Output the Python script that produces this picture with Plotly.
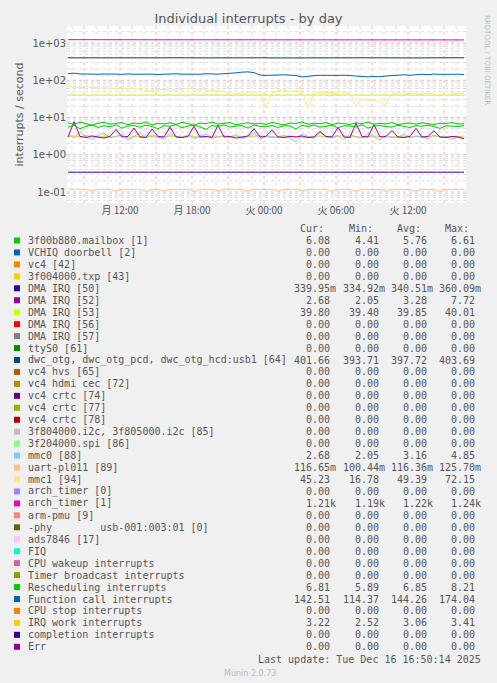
import plotly.graph_objects as go
import pandas as pd
import numpy as np

W, H = 497, 683
PX0, PX1, PY0, PY1 = 67, 466, 26, 203  # plot area pixels

times = pd.date_range("2025-12-15 07:40", periods=67, freq="30min")
x_start = pd.Timestamp("2025-12-15 07:35")
x_end = pd.Timestamp("2025-12-16 16:50")

arch_timer1 = [1230,1225,1228,1222,1226,1224,1220,1223,1225,1221,1224,1226,1222,1220,1223,1225,1221,1219,1222,1224,1220,1218,1221,1223,1219,1217,1220,1222,1218,1216,1219,1221,1217,1215,1218,1220,1216,1214,1217,1219,1215,1213,1216,1218,1214,1212,1215,1217,1213,1211,1214,1216,1212,1210,1213,1215,1211,1209,1212,1214,1210,1208,1211,1213,1209,1207,1210]
dwc_otg = [400,399,401,398,400,402,399,398,400,401,399,397,400,401,398,399,400,402,398,397,400,401,399,398,400,403,399,397,400,401,398,399,400,401,397,396,399,400,398,399,401,400,398,397,400,402,399,398,400,401,399,397,400,401,398,399,400,402,398,397,400,401,399,398,400,401,402]
func_call = [150,155,148,146,150,145,147,149,146,144,148,145,147,150,146,143,147,145,149,146,144,148,145,150,147,146,150,152,158,165,168,160,138,135,138,136,140,137,134,122,130,133,136,134,138,135,137,132,128,125,123,127,124,130,134,137,140,136,142,145,141,147,144,146,143,145,143]
mmc1 = [68,65,63,66,64,62,63,61,60,62,59,60,58,52,55,57,56,58,55,57,60,58,56,55,54,52,50,40,45,42,48,50,45,18,45,52,55,50,52,53,18,45,48,47,46,45,44,45,20,32,28,30,26,22,44,46,45,44,45,43,44,42,41,38,44,45,45]
dma53 = [39.8,39.9,39.8,39.7,39.9,39.8,39.8,39.9,39.7,39.8,39.9,39.8,39.8,39.9,39.8,39.7,39.8,39.9,39.8,39.8,39.9,39.8,39.7,39.8,39.9,39.8,39.8,39.9,39.8,39.7,39.8,39.9,39.8,39.8,39.9,39.8,39.7,39.8,39.9,39.8,39.8,39.9,39.8,39.7,39.8,39.9,39.8,39.8,39.9,39.8,39.7,39.8,39.9,39.8,39.8,39.9,39.8,39.7,39.8,39.9,39.8,39.8,39.9,39.8,39.7,39.8,39.8]
resched = [7.2,6.5,7.5,6.8,6.2,7.0,7.4,6.6,6.9,7.3,6.4,7.1,6.8,7.6,6.3,7.0,6.7,7.2,6.5,7.4,6.9,6.2,7.1,6.8,7.5,6.6,7.0,7.3,6.4,6.9,7.2,6.7,7.0,6.5,7.4,6.8,6.3,7.1,6.9,7.6,6.6,7.0,6.8,7.3,6.4,7.1,6.9,6.5,7.2,6.8,7.5,6.6,7.0,6.7,7.3,6.4,6.9,7.1,6.6,7.2,6.8,6.5,7.0,6.9,7.3,6.7,6.8]
mailbox = [5.5,6.2,5.0,5.8,6.3,5.4,6.0,5.6,6.4,5.2,5.9,6.1,5.5,6.3,5.7,5.0,6.0,5.8,6.5,5.3,5.9,6.2,5.6,4.8,6.1,5.7,6.4,5.5,5.9,6.0,5.2,6.3,5.8,5.6,6.1,5.4,6.0,5.9,4.9,6.2,5.7,6.3,5.5,5.8,6.1,5.3,6.0,5.9,5.6,6.4,5.2,5.8,6.1,5.7,5.5,6.2,5.9,5.4,6.0,5.8,6.3,5.6,5.1,6.0,5.9,5.7,6.1]
dma52 = [3.0,7.7,3.1,2.9,3.2,3.0,2.8,3.1,4.8,3.0,3.1,5.2,3.0,2.9,4.9,3.1,3.0,5.5,3.0,2.9,3.1,5.8,3.0,3.1,2.9,6.2,3.0,3.1,2.8,3.0,3.2,5.0,3.0,3.1,4.6,3.0,2.9,3.1,3.0,3.2,2.9,3.0,4.2,3.1,3.0,5.4,3.0,2.9,7.0,3.1,3.0,6.4,3.0,3.1,4.5,3.0,2.9,3.1,5.1,3.0,3.1,4.4,3.0,2.9,3.1,3.0,2.7]
mmc0 = [3.5,2.8,4.2,3.0,2.6,3.3,3.8,2.9,3.1,3.6,2.5,3.2,3.9,2.8,3.4,3.0,2.6,3.7,3.1,2.9,3.4,2.7,3.2,3.6,2.8,3.0,3.3,2.9,3.5,2.7,3.1,3.8,2.6,3.2,3.0,2.9,3.4,2.8,2.2,3.6,3.1,2.7,4.0,3.0,2.9,3.3,2.6,3.5,3.0,2.8,3.7,3.1,2.5,3.3,3.0,2.9,3.6,2.8,3.2,3.0,2.7,3.4,2.9,3.1,2.6,3.0,2.7]
irq_work = [3.1,3.2,3.0,3.3,3.1,2.9,3.2,3.0,3.1,3.3,2.8,3.1,3.0,3.2,3.1,2.9,3.0,3.2,3.1,3.0,3.3,3.1,2.9,3.0,3.2,3.1,3.0,3.1,3.2,2.9,3.0,3.1,3.3,3.0,2.9,3.1,3.0,3.2,3.1,2.9,3.0,3.1,3.2,3.0,2.9,3.1,3.3,3.0,3.1,2.9,3.0,3.2,3.1,3.0,2.9,3.1,3.2,3.0,3.1,2.9,3.0,3.2,3.1,3.0,3.1,3.0,3.2]
dma50 = [0.340,0.340,0.341,0.340,0.339,0.340,0.345,0.340,0.340,0.341,0.340,0.339,0.340,0.340,0.341,0.340,0.340,0.345,0.340,0.340,0.339,0.340,0.340,0.343,0.340,0.340,0.339,0.340,0.341,0.340,0.340,0.339,0.340,0.340,0.341,0.340,0.340,0.339,0.340,0.340,0.341,0.340,0.340,0.339,0.340,0.340,0.341,0.340,0.340,0.339,0.340,0.340,0.341,0.340,0.340,0.339,0.340,0.340,0.341,0.340,0.340,0.339,0.344,0.340,0.341,0.340,0.340]
uart = [0.120,0.118,0.116,0.118,0.108,0.118,0.117,0.118,0.105,0.117,0.118,0.116,0.118,0.104,0.117,0.118,0.106,0.117,0.118,0.116,0.118,0.103,0.117,0.118,0.117,0.106,0.118,0.120,0.118,0.117,0.104,0.118,0.117,0.118,0.117,0.105,0.118,0.117,0.118,0.106,0.117,0.118,0.117,0.118,0.104,0.117,0.118,0.117,0.106,0.118,0.117,0.118,0.117,0.105,0.118,0.117,0.118,0.117,0.106,0.118,0.117,0.118,0.104,0.117,0.118,0.117,0.117]

leg_names = ["3f00b880.mailbox [1]","VCHIQ doorbell [2]","vc4 [42]","3f004000.txp [43]","DMA IRQ [50]","DMA IRQ [52]","DMA IRQ [53]","DMA IRQ [56]","DMA IRQ [57]","ttyS0 [61]","dwc_otg, dwc_otg_pcd, dwc_otg_hcd:usb1 [64]","vc4 hvs [65]","vc4 hdmi cec [72]","vc4 crtc [74]","vc4 crtc [77]","vc4 crtc [78]","3f804000.i2c, 3f805000.i2c [85]","3f204000.spi [86]","mmc0 [88]","uart-pl011 [89]","mmc1 [94]","arch_timer [0]","arch_timer [1]","arm-pmu [9]","-phy        usb-001:003:01 [0]","ads7846 [17]","FIQ","CPU wakeup interrupts","Timer broadcast interrupts","Rescheduling interrupts","Function call interrupts","CPU stop interrupts","IRQ work interrupts","completion interrupts","Err"]
leg_colors = ["#00CC00","#0066B3","#FF8000","#FFCC00","#330099","#990099","#CCFF00","#FF0000","#808080","#008F00","#00487D","#B35A00","#B38F00","#6B006B","#8FB300","#B30000","#BEBEBE","#80FF80","#80C9FF","#FFC080","#FFE680","#AA80FF","#EE00CC","#FF8080","#666600","#FFBFFF","#00FFCC","#CC6699","#999900","#00CC00","#0066B3","#FF8000","#FFCC00","#330099","#990099"]
Z = "0.00"
leg_cur = ["6.08",Z,Z,Z,"339.95m","2.68","39.80",Z,Z,Z,"401.66",Z,Z,Z,Z,Z,Z,Z,"2.68","116.65m","45.23",Z,"1.21k",Z,Z,Z,Z,Z,Z,"6.81","142.51",Z,"3.22",Z,Z]
leg_min = ["4.41",Z,Z,Z,"334.92m","2.05","39.40",Z,Z,Z,"393.71",Z,Z,Z,Z,Z,Z,Z,"2.05","100.44m","16.78",Z,"1.19k",Z,Z,Z,Z,Z,Z,"5.89","114.37",Z,"2.52",Z,Z]
leg_avg = ["5.76",Z,Z,Z,"340.51m","3.28","39.85",Z,Z,Z,"397.72",Z,Z,Z,Z,Z,Z,Z,"3.16","116.36m","49.39",Z,"1.22k",Z,Z,Z,Z,Z,Z,"6.85","144.26",Z,"3.06",Z,Z]
leg_max = ["6.61",Z,Z,Z,"360.09m","7.72","40.01",Z,Z,Z,"403.69",Z,Z,Z,Z,Z,Z,Z,"4.85","125.70m","72.15",Z,"1.24k",Z,Z,Z,Z,Z,Z,"8.21","174.04",Z,"3.41",Z,Z]

series = [
    (uart, 19), (dma50, 4), (irq_work, 32), (mmc0, 18), (dma52, 5), (mailbox, 0),
    (resched, 29), (dma53, 6), (mmc1, 20), (func_call, 30), (dwc_otg, 10), (arch_timer1, 22),
]

fig = go.Figure()
for vals, li in series:
    fig.add_trace(go.Scatter(x=times, y=vals, mode="lines", line=dict(color=leg_colors[li], width=1),
                             showlegend=False, hoverinfo="skip"))

ylo = -1 - (PY1 - 192) / 37.25
yhi = 3 + (43 - PY0) / 37.25

MAJ = "#f2b4b4"
MIN = "#dadada"
shapes = []
for d in range(-2, 4):
    for m in range(1, 10):
        v = m * 10 ** d
        lv = np.log10(v)
        if ylo < lv < yhi:
            shapes.append(dict(type="line", xref="paper", x0=0, x1=1, yref="y", y0=v, y1=v,
                               line=dict(color=MAJ if m == 1 else MIN, width=1, dash="dot"), layer="below"))
t = pd.Timestamp("2025-12-15 08:00")
while t <= x_end:
    major = t.hour % 3 == 0
    shapes.append(dict(type="line", yref="paper", y0=0, y1=1, xref="x", x0=t, x1=t,
                       line=dict(color=MAJ if major else MIN, width=1, dash="dot"), layer="below"))
    t += pd.Timedelta(hours=1)

def px(x): return (x - PX0) / (PX1 - PX0)
def py(y): return (PY1 - y) / (PY1 - PY0)

ann = []
MONO = "DejaVu Sans Mono"
TC = "#555555"
ann.append(dict(text="Cur:", x=px(326), y=py(228), xanchor="right"))
ann.append(dict(text="Min:", x=px(375), y=py(228), xanchor="right"))
ann.append(dict(text="Avg:", x=px(423), y=py(228), xanchor="right"))
ann.append(dict(text="Max:", x=px(471), y=py(228), xanchor="right"))
for i, name in enumerate(leg_names):
    yy = 240.5 + i * 11.95
    shapes.append(dict(type="rect", xref="paper", yref="paper", x0=px(14), x1=px(20),
                       y0=py(yy - 3), y1=py(yy + 3), fillcolor=leg_colors[i], line=dict(width=0)))
    ann.append(dict(text=name.replace(" ", "&nbsp;"), x=px(26), y=py(yy), xanchor="left"))
    for col, right in ((leg_cur, 332), (leg_min, 381), (leg_avg, 429), (leg_max, 477)):
        s = col[i]
        r = right + 6 if s[-1] in "mk" else right
        ann.append(dict(text=s, x=px(r), y=py(yy), xanchor="right"))
ann.append(dict(text="Last update: Tue Dec 16 16:50:14 2025", x=px(483), y=py(659), xanchor="right"))
for a in ann:
    a.update(xref="paper", yref="paper", showarrow=False, yanchor="middle",
             font=dict(family=MONO, size=10, color=TC))
ann.append(dict(text="Munin 2.0.73", x=px(250), y=py(673), xref="paper", yref="paper", showarrow=False,
                font=dict(family="DejaVu Sans", size=8, color="#bbbbbb"), xanchor="center", yanchor="middle"))
ann.append(dict(text="RRDTOOL / TOBI OETIKER", x=px(487), y=py(60), xref="paper", yref="paper", showarrow=False,
                textangle=90, font=dict(family="DejaVu Sans", size=7, color="#bbbbbb"), xanchor="center", yanchor="middle"))

tickvals = [pd.Timestamp("2025-12-15 12:00"), pd.Timestamp("2025-12-15 18:00"), pd.Timestamp("2025-12-16 00:00"),
            pd.Timestamp("2025-12-16 06:00"), pd.Timestamp("2025-12-16 12:00")]
ticktext = ["月 12:00", "月 18:00", "火 00:00", "火 06:00", "火 12:00"]

fig.update_layout(
    width=W, height=H, margin=dict(l=PX0, r=W - PX1, t=PY0, b=H - PY1),
    paper_bgcolor="#f0f0f0", plot_bgcolor="#ffffff",
    title=dict(text="Individual interrupts - by day", x=0.5, xanchor="center", y=1 - 18 / H, yanchor="middle",
               font=dict(family="DejaVu Sans", size=13, color="#555555")),
    xaxis=dict(type="date", range=[x_start, x_end], tickvals=tickvals, ticktext=ticktext, showgrid=False,
               zeroline=False, showline=False, ticks="", tickfont=dict(family="Noto Sans CJK JP", size=10, color=TC)),
    yaxis=dict(type="log", range=[ylo, yhi], tickvals=[0.1, 1, 10, 100, 1000],
               ticktext=["1e-01", "1e+00", "1e+01", "1e+02", "1e+03"], showgrid=False, zeroline=False,
               showline=False, ticks="", tickfont=dict(family="DejaVu Sans", size=10, color=TC),
               title=dict(text="interrupts / second", font=dict(family="DejaVu Sans", size=11, color=TC), standoff=6)),
    shapes=shapes, annotations=ann,
)
fig.write_html("out.html", config={"displayModeBar": False})
with open("out.html", encoding="utf-8") as f:
    html = f.read()
html = html.replace("<body>", '<body style="margin:0;padding:0;overflow:hidden">', 1)
with open("out.html", "w", encoding="utf-8") as f:
    f.write(html)
